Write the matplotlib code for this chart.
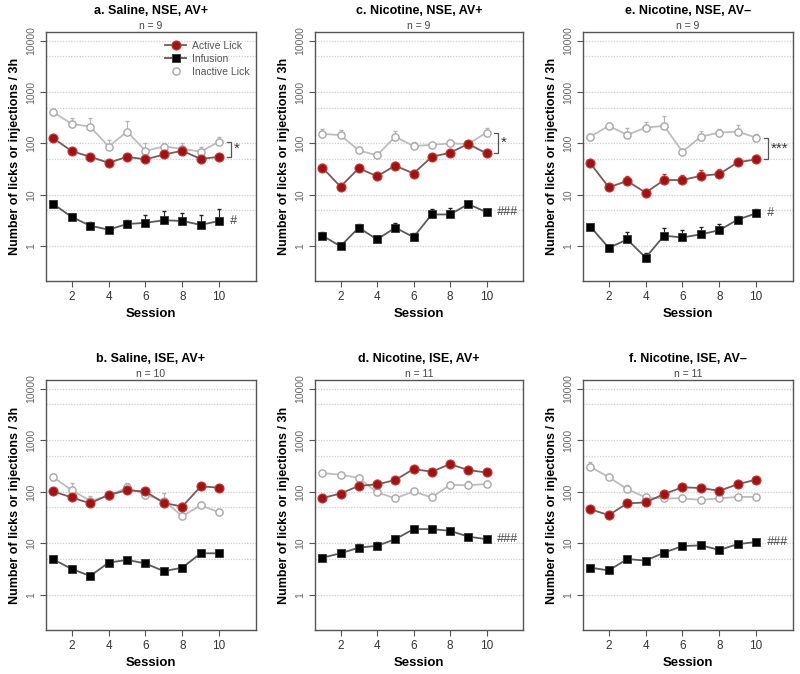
import numpy as np
import matplotlib.pyplot as plt

plt.rcParams['font.family'] = ['Liberation Sans', 'DejaVu Sans']

# ---------------- data ----------------
sessions = np.arange(1, 11)

panel_titles = ["a. Saline, NSE, AV+", "c. Nicotine, NSE, AV+", "e. Nicotine, NSE, AV\u2013",
                "b. Saline, ISE, AV+", "d. Nicotine, ISE, AV+", "f. Nicotine, ISE, AV\u2013"]
panel_n = ["n = 9", "n = 9", "n = 9", "n = 10", "n = 11", "n = 11"]

active = [
    [126, 71, 55, 42, 55, 49, 61, 72, 50, 55],
    [34, 14.4, 33, 23, 37, 26, 55, 66, 98, 64],
    [41, 14, 18.6, 11, 19.4, 19.4, 23.5, 25.4, 43, 49],
    [102, 78, 60, 88, 107, 102, 61, 52, 128, 121],
    [76, 93, 131, 140, 170, 278, 246, 347, 265, 238],
    [46, 35.5, 60, 62.5, 91, 123, 119, 105, 141, 173],
]
active_err = [
    [15, 10, 6, 5, 6, 6, 10, 12, 6, 6],
    [6, 2, 5, 3, 6, 4, 8, 10, 10, 8],
    [6, 2, 5, 2, 6, 5, 7, 7, 6, 10],
    [12, 10, 8, 10, 12, 12, 8, 8, 20, 15],
    [10, 12, 15, 30, 20, 30, 20, 40, 20, 20],
    [5, 5, 6, 6, 10, 12, 12, 10, 15, 20],
]
infusion = [
    [6.6, 3.7, 2.5, 2.1, 2.7, 2.85, 3.2, 3.1, 2.6, 3.1],
    [1.6, 1.0, 2.3, 1.35, 2.3, 1.5, 4.15, 4.15, 6.6, 4.6],
    [2.4, 0.93, 1.35, 0.6, 1.6, 1.48, 1.7, 2.05, 3.3, 4.35],
    [4.9, 3.2, 2.34, 4.25, 4.8, 4.1, 2.9, 3.4, 6.45, 6.45],
    [5.3, 6.45, 8.3, 9.0, 12.1, 19, 19, 17.6, 13.6, 12.1],
    [3.4, 3.0, 5.0, 4.65, 6.65, 8.9, 9.2, 7.5, 9.7, 10.7],
]
infusion_err = [
    [0.6, 0.6, 0.4, 0.3, 0.5, 1.2, 1.7, 1.4, 1.4, 2.1],
    [0.3, 0.15, 0.4, 0.2, 0.5, 0.3, 1.2, 1.4, 0.8, 0.5],
    [0.3, 0.1, 0.5, 0.15, 0.7, 0.6, 0.7, 0.6, 0.6, 1.0],
    [0.5, 0.3, 0.2, 0.6, 0.5, 0.4, 0.3, 0.4, 0.8, 0.9],
    [0.6, 1.0, 1.5, 1.5, 1.0, 2, 2, 1.5, 1.2, 1.0],
    [0.3, 0.3, 0.4, 0.4, 0.6, 0.8, 0.8, 0.6, 0.8, 0.8],
]
inactive = [
    [406, 240, 213, 87, 170, 72, 87, 79, 69, 109],
    [154, 145, 73, 59, 136, 89, 94, 100, 98, 163],
    [136, 220, 147, 204, 220, 69, 136, 163, 170, 130],
    [191, 108, 67, 84, 122, 88, 67, 34, 55, 40],
    [232, 216, 186, 98, 75, 102, 78, 137, 135, 142],
    [308, 192, 114, 78, 75, 75, 70, 75, 80, 80],
]
inactive_err = [
    [40, 70, 96, 30, 98, 28, 17, 21, 18, 27],
    [40, 35, 10, 8, 40, 20, 10, 15, 15, 40],
    [15, 30, 50, 60, 130, 10, 40, 25, 60, 20],
    [30, 40, 15, 10, 25, 15, 30, 5, 8, 4],
    [20, 20, 25, 10, 8, 10, 8, 20, 25, 20],
    [70, 30, 20, 10, 5, 5, 5, 5, 5, 8],
]

# significance marks: bracket between active and inactive (label) and infusion mark
bracket_labels = ["*", "*", "***", "", "", ""]
infusion_labels = ["#", "###", "#", "", "###", "###"]

# ---------------- layout ----------------
W, H = 800, 674
fig = plt.figure(figsize=(W / 100, H / 100), dpi=100)

col_x = [(46, 256), (315, 523), (583, 793)]
row_y = [(32, 281), (380, 630)]

RED = "#9e1414"
RED_EDGE = "#c23a3a"
GRAY_LINE = "#bdbdbd"
GRID = "#cfcfcf"

positions = []
for r in range(2):
    for c in range(3):
        x0, x1 = col_x[c]
        y0, y1 = row_y[r]
        positions.append([x0 / W, 1 - y1 / H, (x1 - x0) / W, (y1 - y0) / H])

for i in range(6):
    ax = fig.add_axes(positions[i])
    ax.set_yscale("log")
    ax.set_xlim(0.6, 12)
    ax.set_ylim(0.21, 14800)

    # dotted grid at 1, 5, 10, 50 ...
    for g in [1, 5, 10, 50, 100, 500, 1000, 5000, 10000]:
        ax.axhline(g, color=GRID, lw=0.9, ls=(0, (1, 1.2)), zorder=0)

    # inactive lick
    ax.errorbar(sessions, inactive[i], yerr=[np.zeros(10), inactive_err[i]],
                fmt="none", ecolor="#b5b5b5", elinewidth=0.8, capsize=1.5, zorder=2)
    ax.plot(sessions, inactive[i], color=GRAY_LINE, lw=1.3, marker="o", ms=5.2,
            mfc="white", mec="#a8a8a8", mew=1.0, zorder=3, label="Inactive Lick")

    # active lick
    ax.errorbar(sessions, active[i], yerr=[np.zeros(10), active_err[i]],
                fmt="none", ecolor=RED_EDGE, elinewidth=0.8, capsize=1.5, zorder=4)
    ax.plot(sessions, active[i], color="#7a5a5a", lw=1.3, marker="o", ms=6.5,
            mfc=RED, mec=RED_EDGE, mew=0.8, zorder=5, label="Active Lick")

    # infusion
    ax.errorbar(sessions, infusion[i], yerr=[np.zeros(10), infusion_err[i]],
                fmt="none", ecolor="#222222", elinewidth=0.8, capsize=1.5, zorder=4)
    ax.plot(sessions, infusion[i], color="#5a5a5a", lw=1.3, marker="s", ms=6,
            mfc="black", mec="#333333", mew=0.6, zorder=5, label="Infusion")

    # significance annotations
    if bracket_labels[i]:
        top = inactive[i][-1]
        bot = active[i][-1]
        bx = 10.65
        ax.plot([bx - 0.25, bx, bx, bx - 0.25], [top, top, bot, bot],
                color="#555555", lw=0.9, zorder=6)
        ax.text(bx + 0.12, np.sqrt(top * bot), bracket_labels[i], ha="left",
                va="center", fontsize=11, color="#333333")
    if infusion_labels[i]:
        ax.text(10.55, infusion[i][-1], infusion_labels[i], ha="left",
                va="center", fontsize=9, color="#444444", style="italic")

    # axes styling (R-like)
    for s in ax.spines.values():
        s.set_color("#555555")
        s.set_linewidth(1.0)
    ax.set_xticks([2, 4, 6, 8, 10])
    ax.set_xticklabels(["2", "4", "6", "8", "10"], fontsize=8.5, color="#333333")
    ax.set_yticks([1, 10, 100, 1000, 10000])
    ax.set_yticklabels(["1", "10", "100", "1000", "10000"], fontsize=7.5,
                       color="#666666", rotation=90, va="center")
    ax.minorticks_off()
    ax.tick_params(axis="both", direction="out", length=4, width=0.8,
                   color="#555555", pad=3)
    ax.set_xlabel("Session", fontsize=9.5, fontweight="bold", labelpad=4)
    ax.set_ylabel("Number of licks or injections / 3h", fontsize=9,
                  fontweight="bold", labelpad=4)

    ax.annotate(panel_titles[i], xy=(0.5, 1), xycoords="axes fraction",
                xytext=(0, 15), textcoords="offset points", ha="center",
                va="center", fontsize=9, fontweight="bold")
    ax.annotate(panel_n[i], xy=(0.5, 1), xycoords="axes fraction",
                xytext=(0, 4.5), textcoords="offset points", ha="center",
                va="center", fontsize=7.5, color="#444444")

    if i == 0:
        h, l = ax.get_legend_handles_labels()
        order = [1, 2, 0]
        leg = ax.legend([h[k] for k in order], [l[k] for k in order],
                        loc="upper right", frameon=False, fontsize=7.5,
                        handlelength=2.0, handletextpad=0.6, labelspacing=0.3,
                        borderaxespad=0.2, bbox_to_anchor=(1.0, 0.99))
        for t in leg.get_texts():
            t.set_color("#555555")
        # inactive entry has no visible line in the key
        leg.get_lines()[2].set_linestyle("none")

fig.savefig("out.png", dpi=100)
